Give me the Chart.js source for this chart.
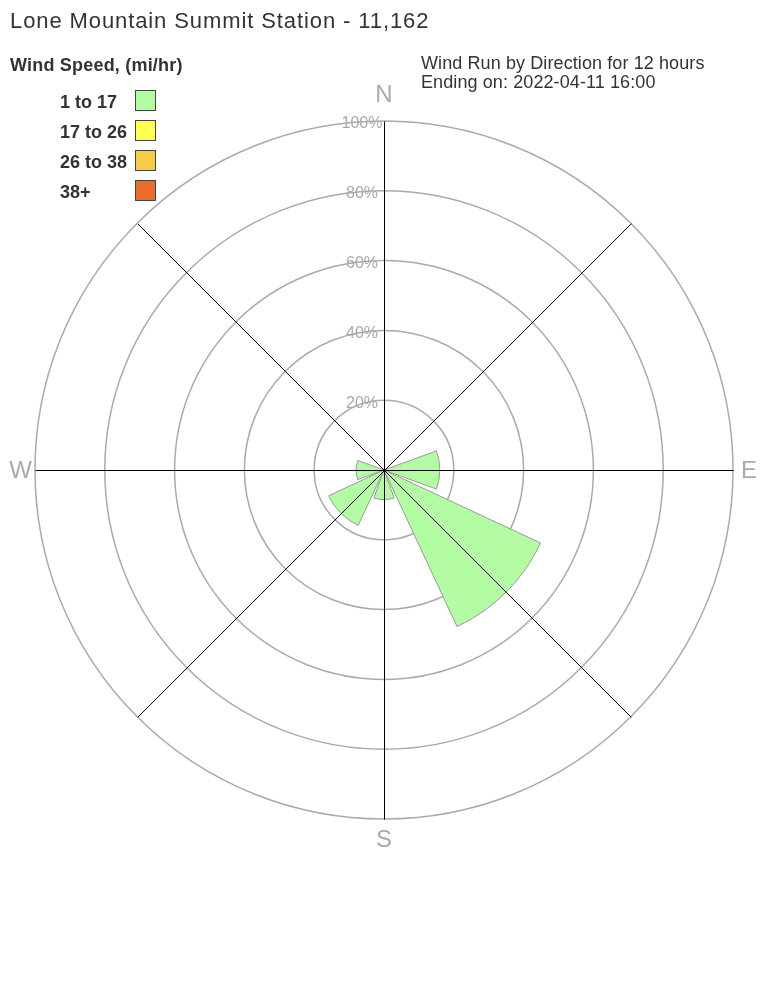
<!DOCTYPE html>
<html>
<head>
<meta charset="utf-8">
<script src="https://cdn.jsdelivr.net/npm/chart.js@4/dist/chart.umd.min.js"></script>
<style>
  body { margin: 0; background: #fff; font-family: "Liberation Sans", Arial, sans-serif; color: #333; }
  #wrap { position: relative; width: 768px; height: 1008px; }
  #rose { position: absolute; left: 0; top: 0; }
  .txt { position: absolute; white-space: nowrap; }
  #title { left: 10px; top: 8px; font-size: 22px; letter-spacing: 0.9px; }
  #legTitle { left: 10px; top: 55px; font-size: 18px; font-weight: bold; letter-spacing: 0.2px; }
  #sub { left: 421px; top: 54px; font-size: 18px; line-height: 19px; letter-spacing: 0.1px; }
  .leg { position: absolute; left: 60px; font-size: 18px; font-weight: bold; }
  .box { position: absolute; left: 135px; width: 19px; height: 19px; border: 1px solid #444; }
</style>
</head>
<body>
<div id="wrap">
  <canvas id="rose" width="768" height="1008"></canvas>
  <div class="txt" id="title">Lone Mountain Summit Station - 11,162</div>
  <div class="txt" id="legTitle">Wind Speed, (mi/hr)</div>
  <div class="txt" id="sub">Wind Run by Direction for 12 hours<br>Ending on: 2022-04-11 16:00</div>
  <div id="legend"></div>
</div>
<script>
// Wind directions (8 sectors, clockwise from north)
const directions = ['N', 'NE', 'E', 'SE', 'S', 'SW', 'W', 'NW'];
// Percent of wind run in each direction, 1 to 17 mi/hr bin
const runPct = [0, 0, 16, 49.5, 8.5, 17.5, 8, 0];

// Speed bins for the legend
const speedBins = ['1 to 17', '17 to 26', '26 to 38', '38+'];
const binColors = ['#b3fca4', '#ffff4f', '#f8cc45', '#ec6c2e'];

// Ring ticks
const ringTicks = [0, 20, 40, 60, 80, 100];
const compass = ['N', 'E', 'S', 'W'];

// Build legend
const legend = document.getElementById('legend');
speedBins.forEach((bin, i) => {
    const label = document.createElement('div');
    label.className = 'leg';
    label.style.top = (92 + i * 30) + 'px';
    label.textContent = bin;
    legend.appendChild(label);
    const box = document.createElement('div');
    box.className = 'box';
    box.style.top = (90 + i * 30) + 'px';
    box.style.background = binColors[i];
    legend.appendChild(box);
});

// Each sector is a 40 degree wedge followed by a 5 degree gap
const values = [];
const labels = [];
directions.forEach((d, i) => {
    values.push(runPct[i]);
    labels.push(d);
    values.push(0);
    labels.push('');
});

const roseDecor = {
    id: 'roseDecor',
    afterDatasetsDraw(chart) {
        const ctx = chart.ctx;
        const scale = chart.scales.r;
        const cx = scale.xCenter, cy = scale.yCenter, r = scale.drawingArea;
        ctx.save();
        // direction axes
        ctx.strokeStyle = '#000';
        ctx.lineWidth = 1;
        directions.forEach((d, i) => {
            const a = i * Math.PI / 4 - Math.PI / 2;
            ctx.beginPath();
            ctx.moveTo(cx + 0.5, cy + 0.5);
            ctx.lineTo(cx + 0.5 + r * Math.cos(a), cy + 0.5 + r * Math.sin(a));
            ctx.stroke();
        });
        // ring labels
        ctx.fillStyle = '#aaa';
        ctx.font = '16px "Liberation Sans", Arial, sans-serif';
        ctx.textAlign = 'center';
        ctx.textBaseline = 'middle';
        ringTicks.forEach(v => {
            if (v === 0) return;
            const y = cy - scale.getDistanceFromCenterForValue(v);
            ctx.fillText(v + '%', cx - 22, y + 3);
        });
        // compass letters
        ctx.font = '24px "Liberation Sans", Arial, sans-serif';
        ctx.textAlign = 'center';
        ctx.textBaseline = 'bottom';
        ctx.fillText(compass[0], cx, cy - r - 14);
        ctx.textBaseline = 'top';
        ctx.fillText(compass[2], cx, cy + r + 9);
        ctx.textBaseline = 'middle';
        ctx.textAlign = 'left';
        ctx.fillText(compass[1], cx + r + 8, cy + 1);
        ctx.textAlign = 'right';
        ctx.fillText(compass[3], cx - r - 3, cy + 1);
        ctx.restore();
    }
};

new Chart(document.getElementById('rose').getContext('2d'), {
    type: 'polarArea',
    data: {
        labels: labels,
        datasets: [{
            label: speedBins[0],
            data: values,
            backgroundColor: binColors[0],
            borderColor: '#999',
            borderWidth: c => (c.raw > 0 ? 1 : 0),
            angle: c => (c.dataIndex % 2 === 0 ? 40 : 5)
        }]
    },
    options: {
        responsive: false,
        animation: false,
        events: [],
        layout: { padding: { left: 35, right: 35, top: 121, bottom: 189 } },
        plugins: {
            legend: { display: false },
            tooltip: { enabled: false }
        },
        scales: {
            r: {
                min: 0,
                max: 100,
                startAngle: -20,
                ticks: { stepSize: 20, display: false, showLabelBackdrop: false },
                grid: { color: '#aaa', lineWidth: 1.5 },
                angleLines: { display: false },
                pointLabels: { display: false }
            }
        }
    },
    plugins: [roseDecor]
});
</script>
</body>
</html>
